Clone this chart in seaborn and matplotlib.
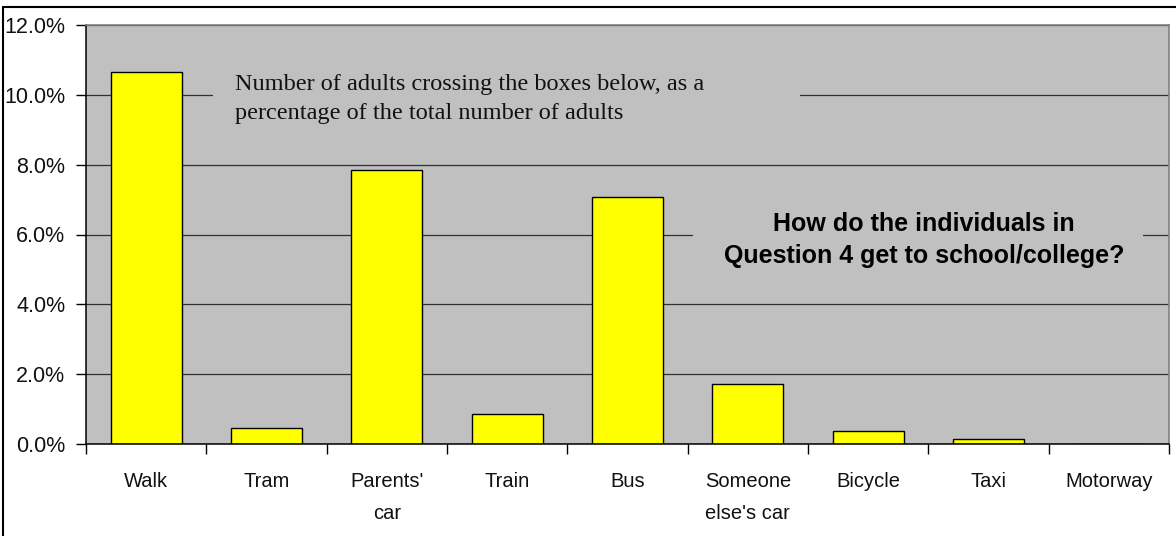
import pandas as pd
import seaborn as sns
from matplotlib import pyplot as plt
from matplotlib import font_manager
from matplotlib.patches import Rectangle
from matplotlib.ticker import PercentFormatter

# data
modes = ['Walk', 'Tram', "Parents'\ncar", 'Train', 'Bus', "Someone\nelse's car",
         'Bicycle', 'Taxi', 'Motorway']
share = [10.66, 0.46, 7.85, 0.86, 7.08, 1.72, 0.37, 0.14, 0.0]
y_ticks = [0, 2, 4, 6, 8, 10, 12]
note_text = "Number of adults crossing the boxes below, as a\npercentage of the total number of adults"
question_text = "How do the individuals in\nQuestion 4 get to school/college?"

sns.set_theme(style='white')
plt.rcParams['font.family'] = ['Liberation Sans', 'DejaVu Sans']

# the category labels look like Arial Narrow
names = {f.name for f in font_manager.fontManager.ttflist}
if 'Liberation Sans Narrow' in names:
    xfont, xsize = 'Liberation Sans Narrow', 16.5
else:
    xfont, xsize = 'Liberation Sans', 14.5

df = pd.DataFrame({'mode': modes, 'share': share})

W, H = 1176, 536
fig = plt.figure(figsize=(W / 100, H / 100), dpi=100)
ax = fig.add_axes([86 / W, 1 - 444 / H, (1169 - 86) / W, (444 - 25) / H])
ax.set_facecolor('#C0C0C0')
ax.set_axisbelow(True)
ax.yaxis.grid(True, color='#303030', linewidth=0.9)

sns.barplot(data=df, x='mode', y='share', color='#FFFF00', edgecolor='black',
            linewidth=1.0, width=0.59, saturation=1, ax=ax)

ax.set_xlim(-0.5, len(modes) - 0.5)
ax.set_ylim(0, 12)
ax.set_yticks(y_ticks)
ax.yaxis.set_major_formatter(PercentFormatter(decimals=1))
ax.set_xlabel('')
ax.set_ylabel('')

# ticks between the categories, labels on the categories
ax.set_xticks([i + 0.5 for i in range(-1, len(modes))])
ax.set_xticklabels([])
ax.set_xticks(range(len(modes)), minor=True)
ax.set_xticklabels(modes, minor=True, family=[xfont, 'DejaVu Sans'],
                   fontsize=xsize, linespacing=1.87, va='top', color='#111111')
ax.tick_params(axis='x', which='major', direction='out', length=7, width=1, color='black', bottom=True)
ax.tick_params(axis='x', which='minor', length=0, pad=20)
ax.tick_params(axis='y', direction='out', length=7, width=1, color='black', left=True,
               labelsize=15.5, pad=8, labelcolor='#111111')

for side in ['left', 'bottom']:
    ax.spines[side].set_color('black')
    ax.spines[side].set_linewidth(1.1)
for side in ['top', 'right']:
    ax.spines[side].set_visible(True)
    ax.spines[side].set_color('#808080')
    ax.spines[side].set_linewidth(1.2)

# text boxes: grey fill hides the gridlines behind them
ax.add_patch(Rectangle((213 / W, 1 - 128 / H), (800 - 213) / W, 60 / H, transform=fig.transFigure,
                       facecolor='#C0C0C0', edgecolor='none', zorder=1))
ax.add_patch(Rectangle((693 / W, 1 - 272 / H), (1143 - 693) / W, 66 / H, transform=fig.transFigure,
                       facecolor='#C0C0C0', edgecolor='none', zorder=1))

ax.text(235 / W, 1 - 99 / H, note_text, transform=fig.transFigure,
        family=['Liberation Serif', 'DejaVu Serif'], fontsize=17.5, ha='left', va='center',
        linespacing=1.5, color='#111111', zorder=3)
ax.text(924 / W, 1 - 240 / H, question_text, transform=fig.transFigure,
        fontsize=18, fontweight='bold', ha='center', va='center', linespacing=1.4,
        color='black', zorder=3)

# outer chart border
fig.add_artist(plt.Line2D([3 / W, 1.0], [1 - 7 / H] * 2, transform=fig.transFigure,
                          color='black', linewidth=1.5))
fig.add_artist(plt.Line2D([3 / W] * 2, [0, 1 - 7 / H], transform=fig.transFigure,
                          color='black', linewidth=1.5))

plt.savefig('out.png', dpi=100)
